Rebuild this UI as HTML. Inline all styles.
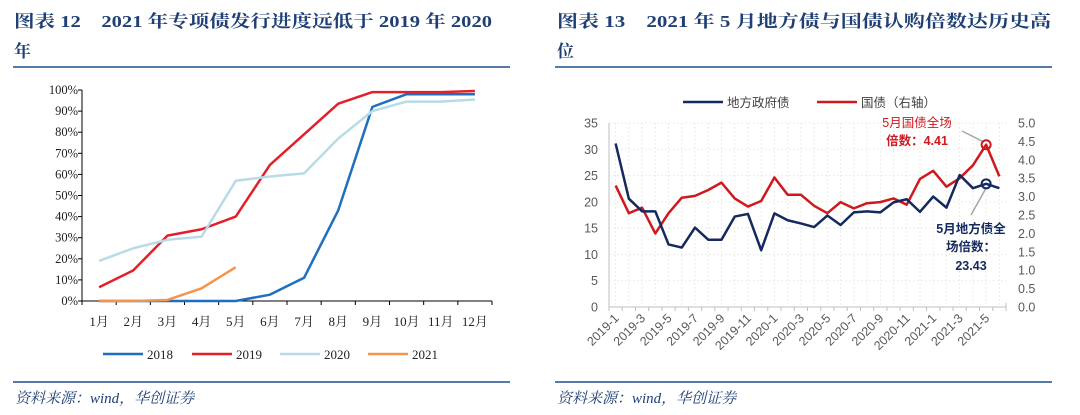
<!DOCTYPE html>
<html><head><meta charset="utf-8">
<style>
html,body{margin:0;padding:0;background:#fff;}
svg{display:block;font-family:"Liberation Serif","Noto Serif CJK SC",serif;}
</style></head>
<body>
<svg id="root" width="1080" height="415" viewBox="0 0 1080 415" xmlns="http://www.w3.org/2000/svg">
  <g fill="#1f3f75" font-weight="bold" font-size="17">
    <text x="14" y="27" textLength="478" lengthAdjust="spacingAndGlyphs">图表 12　2021 年专项债发行进度远低于 2019 年 2020</text>
    <text x="14" y="57">年</text>
  </g>
  <line x1="13" y1="67" x2="510" y2="67" stroke="#1f4e8c" stroke-width="1.5"/>
  <g fill="#1f3f75" font-weight="bold" font-size="17">
    <text x="557" y="27" textLength="494" lengthAdjust="spacingAndGlyphs">图表 13　2021 年 5 月地方债与国债认购倍数达历史高</text>
    <text x="557" y="57">位</text>
  </g>
  <line x1="555" y1="67" x2="1052" y2="67" stroke="#1f4e8c" stroke-width="1.5"/>
  <line x1="13" y1="382" x2="510" y2="382" stroke="#1f4e8c" stroke-width="1.5"/>
  <line x1="555" y1="382" x2="1052" y2="382" stroke="#1f4e8c" stroke-width="1.5"/>
  <text x="15" y="403" font-size="15" font-style="italic" fill="#1f3f75">资料来源：wind，华创证券</text>
  <text x="557" y="403" font-size="15" font-style="italic" fill="#1f3f75">资料来源：wind，华创证券</text>
  <g id="left-chart"></g>
  <g id="right-chart" font-family="'Liberation Sans','Noto Sans CJK SC',sans-serif"></g>
</svg>
<script>
// ---- Left chart data ----
const monthLabels = ["1月","2月","3月","4月","5月","6月","7月","8月","9月","10月","11月","12月"];
const s2018 = [0,0,0,0,0,3,11,43,92,98,98,98];
const s2019 = [6.5,14.5,31,34,40,64.5,79,93.5,99,99,99,99.5];
const s2020 = [19,25,29,30.5,57,59,60.5,77,90,94.5,94.5,95.5];
const s2021 = [0,0,0.5,6,16];
const leftTicks = [0,10,20,30,40,50,60,70,80,90,100];
const leftSeriesNames = ["2018","2019","2020","2021"];
// ---- Right chart data ----
const periodLabels = ["2019-1","2019-2","2019-3","2019-4","2019-5","2019-6","2019-7","2019-8","2019-9","2019-10","2019-11","2019-12","2020-1","2020-2","2020-3","2020-4","2020-5","2020-6","2020-7","2020-8","2020-9","2020-10","2020-11","2020-12","2021-1","2021-2","2021-3","2021-4","2021-5","2021-6"];
const localBond = [31.1,20.6,18.2,18.2,11.9,11.3,15.1,12.8,12.8,17.2,17.7,10.8,17.8,16.5,15.9,15.2,17.4,15.6,18.0,18.2,18.0,19.9,20.5,18.1,21.0,18.9,25.1,22.6,23.43,22.6];
const treasury = [3.3,2.55,2.7,2.0,2.55,2.97,3.02,3.18,3.38,2.95,2.73,2.88,3.52,3.05,3.05,2.75,2.55,2.85,2.68,2.82,2.85,2.95,2.78,3.48,3.7,3.27,3.5,3.85,4.41,3.55];
const leftAxisTicks = [0,5,10,15,20,25,30,35];
const rightAxisTicks = [0,0.5,1.0,1.5,2.0,2.5,3.0,3.5,4.0,4.5,5.0];

const NS="http://www.w3.org/2000/svg";
function mk(parent,tag,attrs){const e=document.createElementNS(NS,tag);for(const k in attrs)e.setAttribute(k,attrs[k]);parent.appendChild(e);return e;}

// ===== Left chart =====
(function(){
  const g=document.getElementById('left-chart');
  const x0=82,x1=492,y0=301,y1=90;
  const cw=(x1-x0)/monthLabels.length;
  const xs=i=>x0+cw*(i+0.5);
  const ys=v=>y0-(v/100)*(y0-y1);
  leftTicks.forEach(t=>{
    const tx=mk(g,'text',{x:x0-4,y:ys(t)+4,'text-anchor':'end','font-size':12.5,fill:'#222'});
    tx.textContent=t+'%';
    
    
    const tk=mk(g,'line',{x1:x0-4,x2:x0,y1:ys(t),y2:ys(t),stroke:'#000','stroke-width':1});
    
    
  });
  const ya=mk(g,'line',{x1:x0,x2:x0,y1:y1,y2:y0,stroke:'#000'});
  
  
  const xa=mk(g,'line',{x1:x0,x2:x1,y1:y0,y2:y0,stroke:'#000'});
  
  
  for(let i=0;i<=monthLabels.length;i++){
    const tk=mk(g,'line',{x1:x0+cw*i,x2:x0+cw*i,y1:y0,y2:y0+4,stroke:'#000'});
    
    
  }
  monthLabels.forEach((m,i)=>{
    const t=mk(g,'text',{x:xs(i),y:y0+25,'text-anchor':'middle','font-size':13,fill:'#222'});
    t.textContent=m;
    
    
  });
  const series=[s2018,s2019,s2020,s2021];
  const colors=['#1f6fc0','#e3202a','#b8dbe8','#f5954a'];
  series.forEach((s,k)=>{
    const p=mk(g,'polyline',{points:s.map((v,i)=>xs(i)+','+ys(v)).join(' '),fill:'none',stroke:colors[k],'stroke-width':2.5,'stroke-linejoin':'round'});
    
    
  });
  const lx=[103,192,280,368];
  leftSeriesNames.forEach((n,k)=>{
    const lg=mk(g,'g',{});
    
    
    mk(lg,'line',{x1:lx[k],x2:lx[k]+40,y1:354,y2:354,stroke:colors[k],'stroke-width':2.5});
    const t=mk(lg,'text',{x:lx[k]+44,y:359,'font-size':13,fill:'#222'});
    t.textContent=n;
  });
})();

// ===== Right chart =====
(function(){
  const g=document.getElementById('right-chart');
  const x0=609,x1=1006,y0=307,y1=123;
  const n=periodLabels.length;
  const cw=(x1-x0)/n;
  const xs=i=>x0+cw*(i+0.5);
  const yl=v=>y0-(v/35)*(y0-y1);
  const yr=v=>y0-(v/5)*(y0-y1);
  leftAxisTicks.forEach(t=>{
    if(t>0){const gl=mk(g,'line',{x1:x0,x2:x1,y1:yl(t),y2:yl(t),stroke:'#e6e6d8','stroke-dasharray':'1.5,2.5'});
    
    }
    const tx=mk(g,'text',{x:x0-11,y:yl(t)+4.5,'text-anchor':'end','font-size':12.5,fill:'#595959'});
    tx.textContent=t;
    
    
  });
  for(let i=0;i<n;i++){
    const gl=mk(g,'line',{x1:xs(i),x2:xs(i),y1:y1,y2:y0,stroke:'#e6e6d8','stroke-dasharray':'1.5,2.5'});
    
    
  }
  rightAxisTicks.forEach(t=>{
    const tx=mk(g,'text',{x:x1+12,y:yr(t)+4.5,'font-size':12.5,fill:'#595959'});
    tx.textContent=t.toFixed(1);
    
    
  });
  const ax=mk(g,'path',{d:`M${x0},${y1}V${y0}H${x1}V${y0-4}`,fill:'none',stroke:'#bfbfbf','stroke-width':1});
  
  
  for(let i=0;i<=n;i++){
    const tk=mk(g,'line',{x1:x0+cw*i,x2:x0+cw*i,y1:y0,y2:y0+4,stroke:'#bfbfbf'});
    
    
  }
  periodLabels.forEach((lab,i)=>{
    if(i%2!==0)return;
    const x=xs(i)+4,y=y0+12;
    const t=mk(g,'text',{x:x,y:y,'text-anchor':'end','font-size':12.5,fill:'#595959',transform:`rotate(-45 ${x} ${y})`});
    t.textContent=lab;
    
    
  });
  const red=mk(g,'polyline',{points:treasury.map((v,i)=>xs(i)+','+yr(v)).join(' '),fill:'none',stroke:'#d0181f','stroke-width':2.5,'stroke-linejoin':'round'});
  
  
  const blue=mk(g,'polyline',{points:localBond.map((v,i)=>xs(i)+','+yl(v)).join(' '),fill:'none',stroke:'#14295e','stroke-width':2.5,'stroke-linejoin':'round'});
  
  
  const k=28;
  const pl=mk(g,'line',{x1:962,y1:131,x2:xs(k)-3,y2:yr(treasury[k])-3,stroke:'#a6a6a6','stroke-width':1.5});
  
  
  const bl=mk(g,'line',{x1:971,y1:215,x2:xs(k),y2:yl(localBond[k])+4,stroke:'#a6a6a6','stroke-width':1.5});
  
  
  const c1=mk(g,'circle',{cx:xs(k),cy:yr(treasury[k]),r:4.5,fill:'none',stroke:'#d0181f','stroke-width':2});
  
  
  const c2=mk(g,'circle',{cx:xs(k),cy:yl(localBond[k]),r:4.5,fill:'none',stroke:'#14295e','stroke-width':2});
  
  
  const a1=mk(g,'text',{x:917,y:127,'text-anchor':'middle','font-size':12.5,fill:'#d0181f'});
  a1.textContent='5月国债全场';
  
  
  const a1b=mk(g,'text',{x:917,y:145,'text-anchor':'middle','font-size':12.5,fill:'#d0181f','font-weight':'bold'});
  a1b.textContent='倍数：'+treasury[k];
  
  
  const a2=mk(g,'text',{x:971,y:233,'text-anchor':'middle','font-size':12.5,fill:'#14295e','font-weight':'bold'});
  a2.textContent='5月地方债全';
  
  
  const a2b=mk(g,'text',{x:971,y:251,'text-anchor':'middle','font-size':12.5,fill:'#14295e','font-weight':'bold'});
  a2b.textContent='场倍数：';
  
  
  const a2c=mk(g,'text',{x:971,y:270,'text-anchor':'middle','font-size':12.5,fill:'#14295e','font-weight':'bold'});
  a2c.textContent=localBond[k].toFixed(2);
  
  
  const l1=mk(g,'g',{});
  
  
  mk(l1,'line',{x1:683,x2:723,y1:102,y2:102,stroke:'#14295e','stroke-width':2.5});
  const t1=mk(l1,'text',{x:727,y:107,'font-size':12.5,fill:'#404040'});t1.textContent='地方政府债';
  const l2=mk(g,'g',{});
  
  
  mk(l2,'line',{x1:817,x2:857,y1:102,y2:102,stroke:'#d0181f','stroke-width':2.5});
  const t2=mk(l2,'text',{x:861,y:107,'font-size':12.5,fill:'#404040'});t2.textContent='国债（右轴）';
})();
</script>
</body></html>
